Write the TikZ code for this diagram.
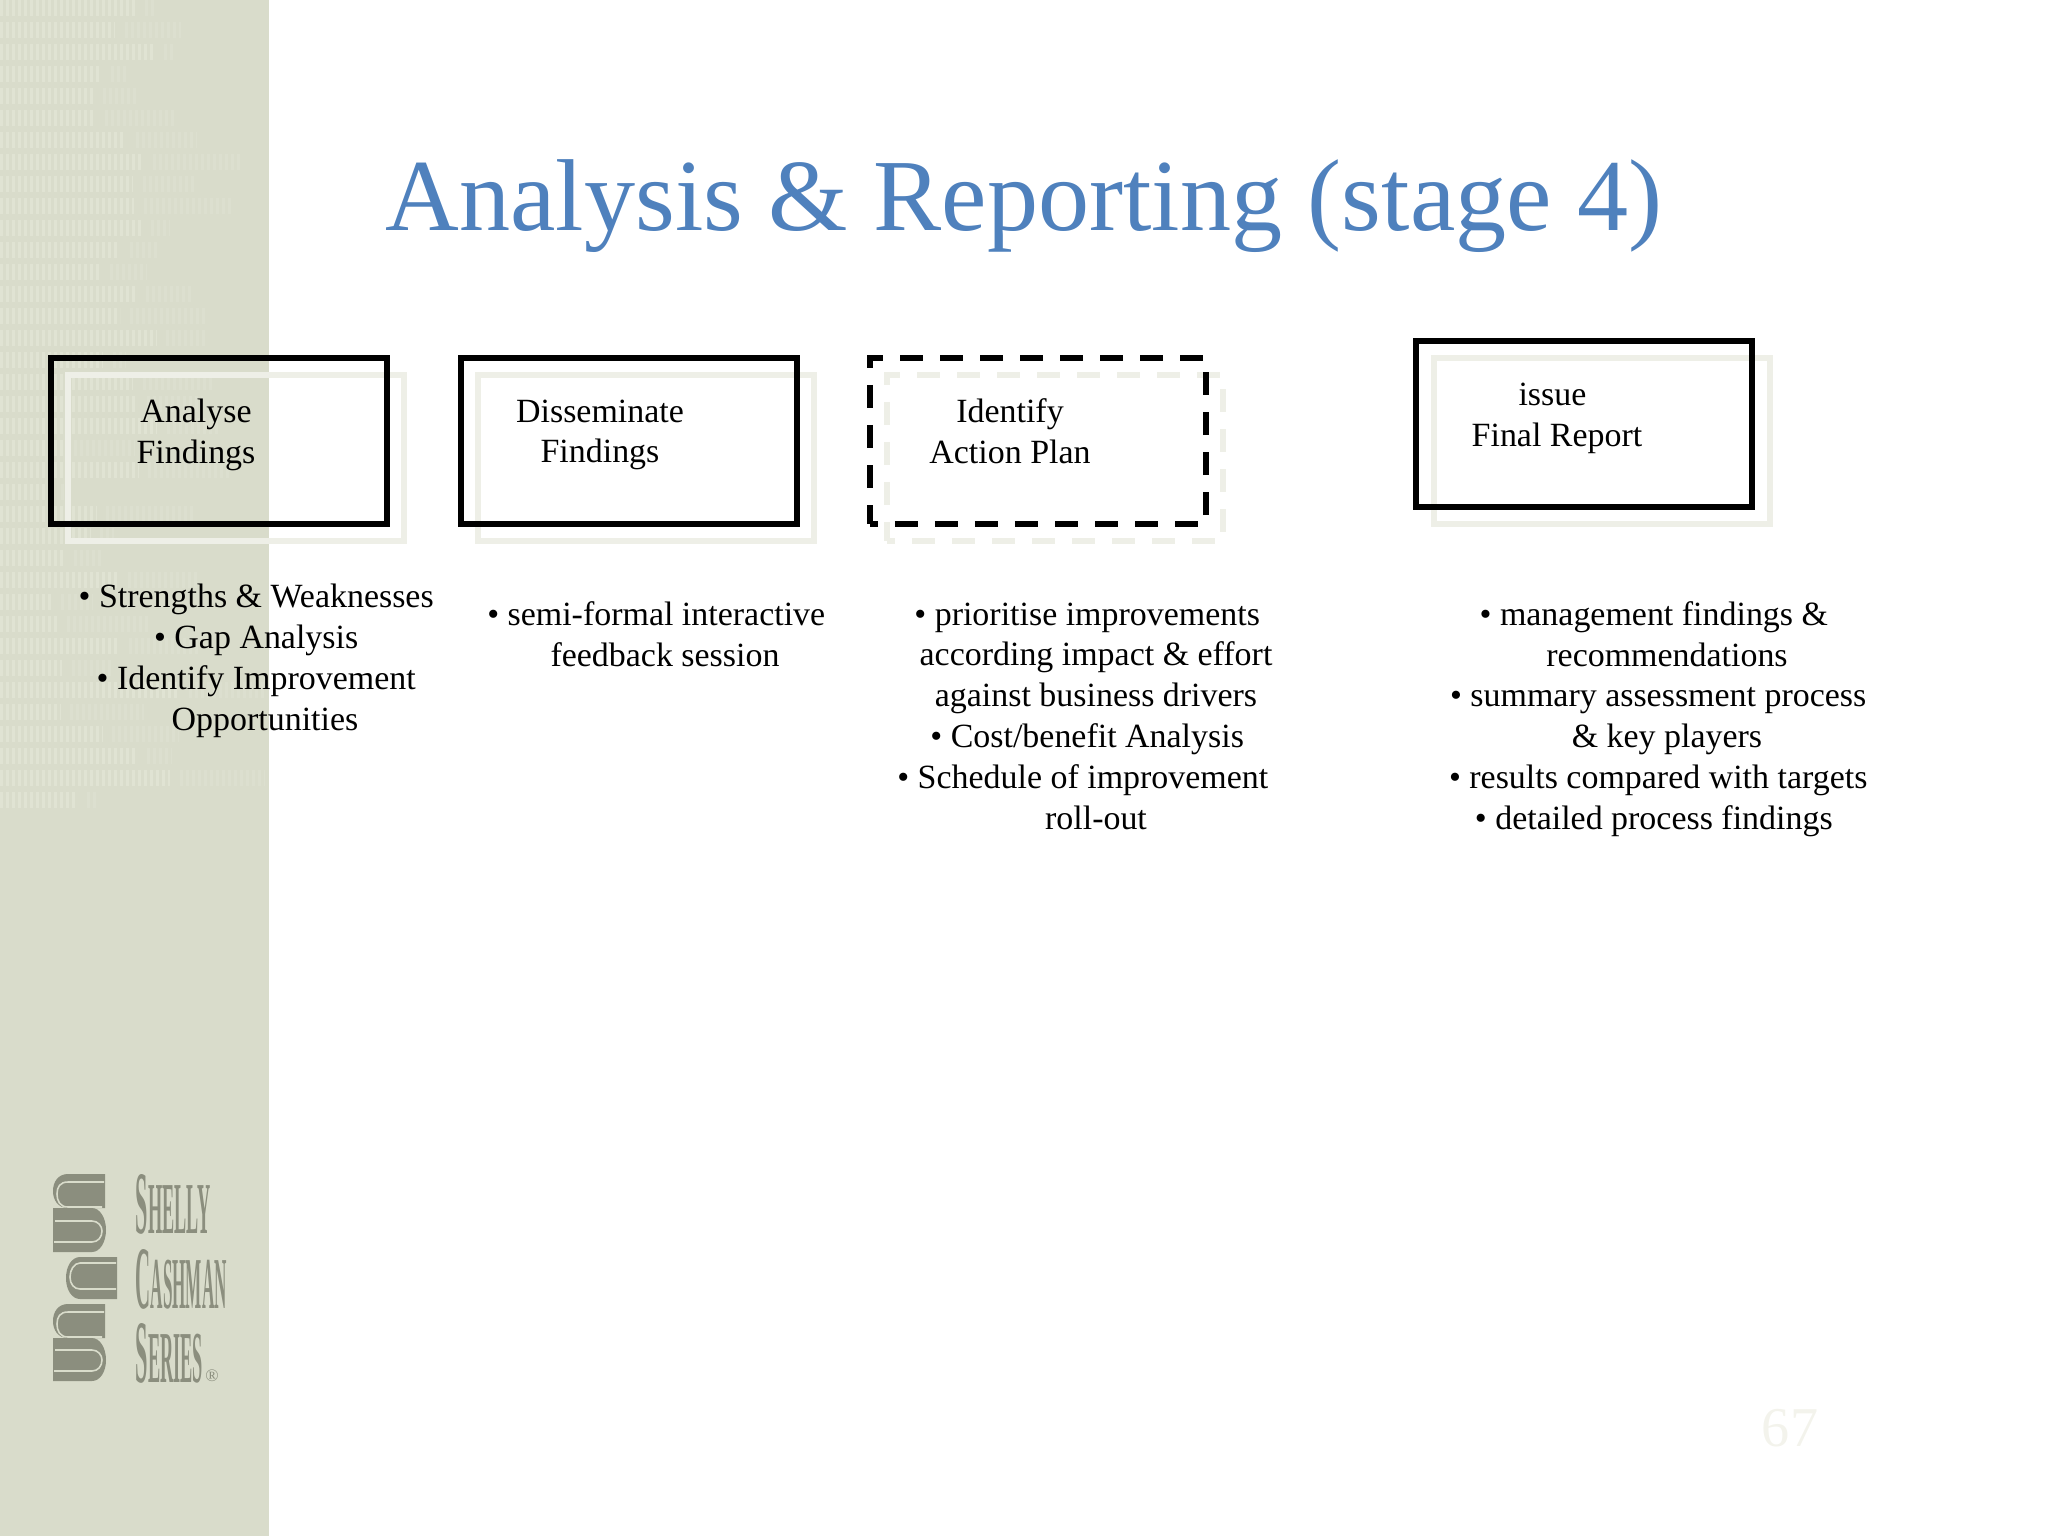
\documentclass[tikz,border=0pt]{standalone}
\usepackage{fontspec}
\usepackage{graphicx}
\setmainfont{Liberation Serif}
\definecolor{bandgreen}{HTML}{D9DCCB}
\definecolor{bandlight}{HTML}{E0E3D3}
\definecolor{bandfaint}{HTML}{DCDFCF}
\definecolor{logogrey}{HTML}{8B8E7E}
\definecolor{shadegrey}{HTML}{EEEFE7}
\definecolor{titleblue}{HTML}{4F81BD}
\definecolor{pagegrey}{HTML}{F3F3EC}
\tikzset{
    stagebox/.style={draw=black,line width=1.6pt,minimum width=3.36cm,minimum height=1.66cm,inner sep=0pt},
    stageshade/.style={stagebox,draw=shadegrey},
    dashbox/.style={dash pattern=on 0.23cm off 0.17cm,dash phase=0.15cm},
    boxtext/.style={align=center,inner sep=0pt,font=\fontsize{9.65}{11.6}\selectfont},
    logotext/.style={inner sep=0pt,text=logogrey,anchor=base west},
    book/.style={fill=logogrey,draw=none},
    pageline/.style={draw=bandgreen,line width=0.45pt},
    bandticks/.style={line width=4.5pt,dash pattern=on 0.03cm off 0.03cm}
}
\newcommand{\bul}[2][5pt]{•\ #2\hbox{\kern#1}}
\newcommand{\logoword}[3]{\scalebox{#3}[1.3]{\bfseries\fontsize{19.5}{19.5}\selectfont #1\fontsize{16}{16}\selectfont #2}}
\begin{document}
\begin{tikzpicture}[x=0.01cm,y=-0.01cm]
    \useasboundingbox (0,0) rectangle (2048,1536);
    % side band
    \fill [bandgreen] (0,0) rectangle (269,1536);
    \pgfmathsetseed{67}
    \foreach \row in {8,30,...,800} {
        \pgfmathsetmacro\rowend{\row<350 ? 90+rnd*70 : 30+rnd*150}
        \pgfmathsetmacro\rowfaint{\rowend+10+rnd*90}
        \draw [bandlight,bandticks] (0,\row) -- (\rowend,\row);
        \draw [bandfaint,bandticks] (\rowend+10,\row) -- (\rowfaint,\row);
    }
    % shaded copies
    \node (analyseshade) [stageshade] at (236,458) {};
    \node (disseminateshade) [stageshade] at (646,458) {};
    \node (identifyshade) [stageshade,dashbox] at (1055,458) {};
    \node (reportshade) [stageshade] at (1602,441) {};
    % stage boxes
    \node (analyse) [stagebox] at (219,441) {};
    \node (disseminate) [stagebox] at (629,441) {};
    \node (identify) [stagebox,dashbox] at (1038,441) {};
    \node (report) [stagebox] at (1584,424) {};
    % title
    \node (title) [inner sep=0pt,text=titleblue,font=\fontsize{29.05}{29}\selectfont] at (1024,206) {Analysis \& Reporting (stage 4)};
    % box labels
    \node (analysetext) [boxtext] at (196,435) {Analyse\\Findings};
    \node (disseminatetext) [boxtext] at (600,435) {Disseminate\\Findings};
    \node (identifytext) [boxtext] at (1010,431) {Identify\\Action Plan};
    \node (reporttext) [boxtext] at (1557,418) {issue\hbox{\kern2.6pt}\\Final Report};
    % lists
    \node (analyselist) [boxtext] at (265,661) {\bul{Strengths \& Weaknesses}\\\bul{Gap Analysis}\\\bul{Identify Improvement}\\Opportunities};
    \node (disseminatelist) [boxtext] at (665,634) {\bul{semi-formal interactive}\\feedback session};
    \node (identifylist) [boxtext] at (1096,716) {\bul{prioritise improvements}\\according impact \& effort\\against business drivers\\\bul{Cost/benefit Analysis}\\\bul[7.5pt]{Schedule of improvement}\\roll-out};
    \node (reportlist) [boxtext] at (1667,719) {\bul[7.5pt]{management findings \&}\\recommendations\\\bul{summary assessment process}\\\& key players\\\bul{results compared with targets}\\\bul[7.5pt]{detailed process findings}};
    % logo books
    \fill [book] (105,1174) -- (68,1174) .. controls (58,1174) and (53,1182) .. (53,1191) .. controls (53,1200) and (58,1208) .. (68,1208) -- (105,1208) -- cycle;
    \fill [book] (53,1208) -- (92,1208) .. controls (100,1208) and (106,1218) .. (106,1230) .. controls (106,1242) and (100,1252) .. (92,1252) -- (53,1252) -- cycle;
    \draw [pageline] (104,1182) -- (68,1182) .. controls (60,1182) and (57,1187) .. (57,1194) .. controls (57,1201) and (60,1207) .. (68,1207) -- (102,1207);
    \draw [pageline] (55,1221) -- (92,1221) .. controls (98,1221) and (102,1226) .. (102,1231) .. controls (102,1237) and (98,1242) .. (92,1242) -- (54,1242);
    \fill [book] (117,1257) -- (80,1257) .. controls (72,1257) and (66,1266) .. (66,1278) .. controls (66,1290) and (72,1299) .. (80,1299) -- (117,1299) -- cycle;
    \draw [pageline] (116,1263) -- (80,1263) .. controls (74,1263) and (70,1270) .. (70,1277) .. controls (70,1284) and (74,1289) .. (80,1289) -- (116,1289);
    \fill [book] (105,1304) -- (68,1304) .. controls (58,1304) and (53,1312) .. (53,1321) .. controls (53,1330) and (58,1338) .. (68,1338) -- (105,1338) -- cycle;
    \fill [book] (53,1338) -- (92,1338) .. controls (100,1338) and (106,1348) .. (106,1360) .. controls (106,1372) and (100,1381) .. (92,1381) -- (53,1381) -- cycle;
    \draw [pageline] (104,1312) -- (68,1312) .. controls (60,1312) and (57,1317) .. (57,1324) .. controls (57,1331) and (60,1337) .. (68,1337) -- (102,1337);
    \draw [pageline] (55,1350) -- (92,1350) .. controls (98,1350) and (102,1355) .. (102,1360) .. controls (102,1366) and (98,1371) .. (92,1371) -- (54,1371);
    % logo words
    \node (shelly) [logotext] at (135,1233) {\logoword{S}{HELLY}{0.324}};
    \node (cashman) [logotext] at (135,1308) {\logoword{C}{ASHMAN}{0.304}};
    \node (series) [logotext] at (135,1382) {\logoword{S}{ERIES}{0.326}};
    \node (registered) [inner sep=0pt,text=logogrey,font=\fontsize{5}{5}\selectfont] at (212,1376) {®};
    % page number
    \node (pagenumber) [inner sep=0pt,text=pagegrey,font=\fontsize{16}{16}\selectfont] at (1790,1428) {67};
\end{tikzpicture}
\end{document}
